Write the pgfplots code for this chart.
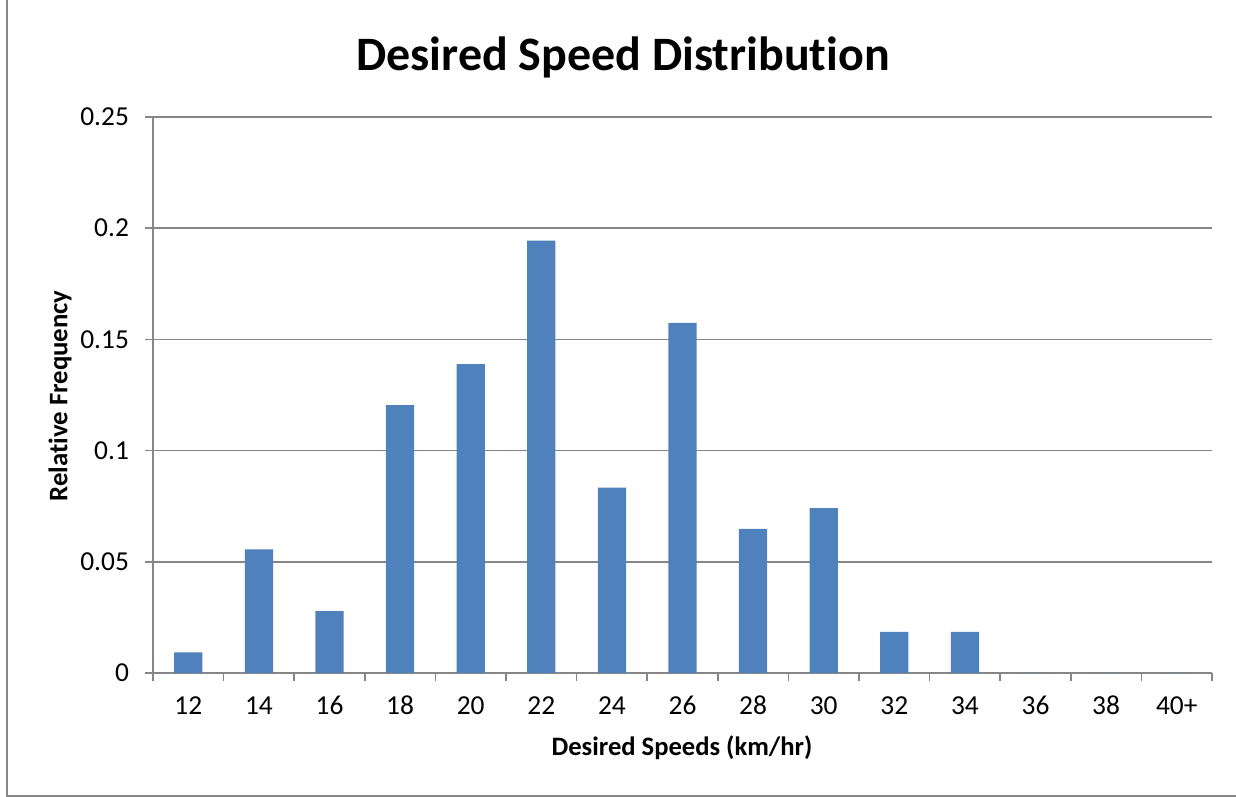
\documentclass[border=0pt]{standalone}
\usepackage{pgfplots}
\pgfplotsset{compat=1.18}
\usepackage{fontspec}
\setmainfont{Carlito}[Ligatures=CommonOff]
\definecolor{barblue}{RGB}{79,129,189}
\definecolor{axgray}{RGB}{134,134,134}
\begin{document}
\begin{tikzpicture}[x=1pt,y=1pt]
\useasboundingbox (-76.5,-62) rectangle (541.5,336.5);
\draw[axgray,line width=0.8pt] (-73,-61.5) rectangle (560,360);
\begin{axis}[
  at={(0,0)}, anchor=south west,
  scale only axis,
  width=529.5pt, height=278pt,
  xmin=-0.5, xmax=14.5,
  ymin=0, ymax=0.25,
  ytick={0,0.05,0.1,0.15,0.2,0.25},
  xtick={0,...,14},
  xticklabels={12,14,16,18,20,22,24,26,28,30,32,34,36,38,40+},
  major x tick style={draw=none},
  minor xtick={-0.5,0.5,...,14.5},
  minor x tick style={axgray,line width=0.8pt},
  major y tick style={axgray,line width=0.8pt},
  tick align=outside,
  major tick length=4pt,
  minor tick length=4pt,
  axis x line*=bottom,
  axis y line*=left,
  axis line style={axgray,line width=0.8pt,-},
  ymajorgrids,
  grid style={axgray,line width=0.8pt},
  /pgf/number format/assume math mode=true,
  /pgf/number format/fixed,
  /pgf/number format/precision=2,
  tick label style={font=\fontsize{13.7}{15}\selectfont},
  yticklabel style={xshift=-4.5pt},
  xticklabel style={yshift=-6pt,text height=1.5ex,text depth=0.3ex},
  scaled y ticks=false,
  clip=false,
]
\addplot[ybar, bar width=0.4, fill=barblue, draw=none] coordinates {
(0,0.00926) (1,0.0556) (2,0.0278) (3,0.1204) (4,0.1389) (5,0.1944)
(6,0.0833) (7,0.1574) (8,0.0648) (9,0.0741) (10,0.0185) (11,0.0185)
(12,0) (13,0) (14,0)
};
\end{axis}
\node[font=\bfseries\fontsize{24}{28}\selectfont] at (235,308) {Desired Speed Distribution};
\node[font=\bfseries\fontsize{13.4}{15}\selectfont,rotate=90] at (-46.5,138.5) {Relative Frequency};
\node[font=\bfseries\fontsize{13.3}{15}\selectfont] at (264.5,-37.5) {Desired Speeds (km/hr)};
\end{tikzpicture}
\end{document}
